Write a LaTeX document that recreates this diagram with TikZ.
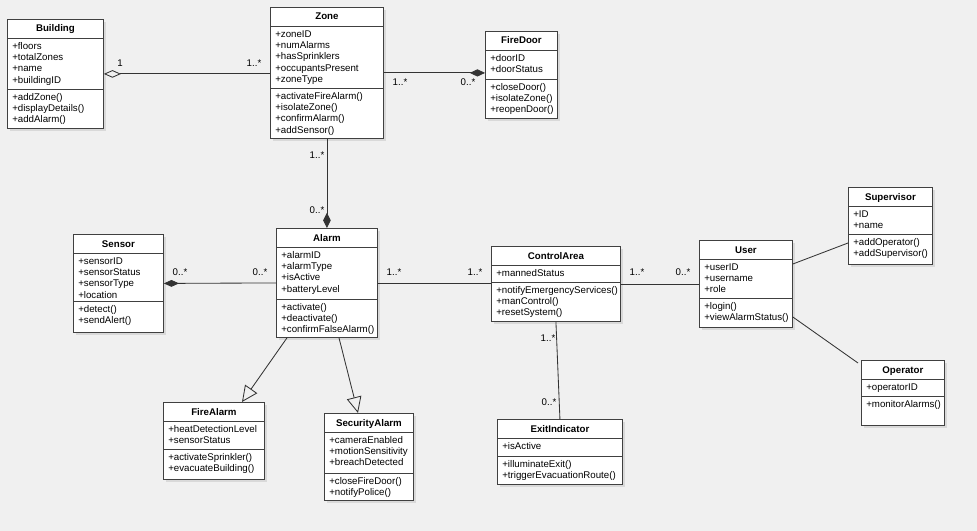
\documentclass[tikz,border=0pt]{standalone}
\usepackage{fontspec}
\setmainfont{Liberation Sans}
\usetikzlibrary{arrows.meta}
\usetikzlibrary{shadows}
\tikzset{
  classbox/.style={draw=black!75, fill=white, line width=0.6pt, anchor=north west, inner sep=0pt,
    drop shadow={shadow xshift=1.5pt, shadow yshift=-1.5pt, opacity=0.2}},
  classsep/.style={draw=black!75, line width=0.6pt},
  classtitle/.style={inner sep=0pt, anchor=base, font=\fontsize{6.9}{8.04}\selectfont\bfseries},
  classtext/.style={inner sep=0pt, anchor=north west, font=\fontsize{6.9}{8.04}\selectfont},
  mult/.style={inner sep=0pt, font=\fontsize{6.9}{8.04}\selectfont},
  assoc/.style={draw=black!80, line width=0.6pt}}
% name, left/top, width, height, title, attributes, operations, attribute height
\newcommand{\umlclass}[8]{%
  \node[classbox, minimum width=#3*0.025cm, minimum height=#4*0.025cm] (#1) at (#2) {};
  \node[classtitle] (#1-title) at ([shift={(0,13)}]#1.north) {#5};
  \draw[classsep] ([shift={(0,19)}]#1.north west) -- ++(#3,0);
  \draw[classsep] ([shift={(0,19+#8)}]#1.north west) -- ++(#3,0);
  \node[classtext] (#1-attr) at ([shift={(5,22)}]#1.north west) {\begin{tabular}{@{}l@{}}#6\end{tabular}};
  \node[classtext] (#1-ops) at ([shift={(5,22+#8)}]#1.north west) {\begin{tabular}{@{}l@{}}#7\end{tabular}};
}
\begin{document}
\begin{tikzpicture}[x=0.025cm, y=-0.025cm]
      \fill[black!6] (0,0) rectangle (977,531);

      \umlclass{building}{7,19}{96}{109}{Building}{+floors\\+totalZones\\+name\\+buildingID}{+addZone()\\+displayDetails()\\+addAlarm()}{51}
      \umlclass{zone}{270,7}{113}{131}{Zone}{+zoneID\\+numAlarms\\+hasSprinklers\\+occupantsPresent\\+zoneType}{+activateFireAlarm()\\+isolateZone()\\+confirmAlarm()\\+addSensor()}{62}
      \umlclass{firedoor}{485,31}{72}{87}{FireDoor}{+doorID\\+doorStatus}{+closeDoor()\\+isolateZone()\\+reopenDoor()}{29}
      \umlclass{sensor}{73,234}{90}{98}{Sensor}{+sensorID\\+sensorStatus\\+sensorType\\+location}{+detect()\\+sendAlert()}{48}
      \umlclass{alarm}{276,228}{101}{109}{Alarm}{+alarmID\\+alarmType\\+isActive\\+batteryLevel}{+activate()\\+deactivate()\\+confirmFalseAlarm()}{52}
      \umlclass{firealarm}{163,402}{101}{77}{FireAlarm}{+heatDetectionLevel\\+sensorStatus}{+activateSprinkler()\\+evacuateBuilding()}{28}
      \umlclass{securityalarm}{324,413}{89}{87}{SecurityAlarm}{+cameraEnabled\\+motionSensitivity\\+breachDetected}{+closeFireDoor()\\+notifyPolice()}{41}
      \umlclass{controlarea}{491,246}{129}{75}{ControlArea}{+mannedStatus}{+notifyEmergencyServices()\\+manControl()\\+resetSystem()}{17}
      \umlclass{exitindicator}{497,419}{125}{65}{ExitIndicator}{+isActive}{+illuminateExit()\\+triggerEvacuationRoute()}{18}
      \umlclass{user}{699,240}{93}{87}{User}{+userID\\+username\\+role}{+login()\\+viewAlarmStatus()}{39}
      \umlclass{supervisor}{848,187}{84}{77}{Supervisor}{+ID\\+name}{+addOperator()\\+addSupervisor()}{28}
      \umlclass{operator}{861,360}{83}{65}{Operator}{+operatorID}{+monitorAlarms()}{17}

      % associations
      \draw[assoc, {Diamond[open, length=0.43cm, width=0.19cm]}-] (building.east) -- (building.east -| zone.west);
      \draw[assoc, -{Diamond[length=0.38cm, width=0.18cm]}] (zone.east) -- (zone.east -| firedoor.west);
      \draw[assoc, -{Diamond[length=0.38cm, width=0.19cm]}] (zone.south) -- (alarm.north);
      \draw[assoc, {Diamond[length=0.38cm, width=0.17cm]}-] (sensor.east) -- (alarm.west);
      \draw[assoc] (alarm.east) -- (alarm.east -| controlarea.west);
      \draw[assoc] (controlarea.east) -- (controlarea.east -| user.west);
      \draw[assoc] (controlarea.south) -- (exitindicator.north);
      \draw[assoc] ([shift={(0,24)}]user.north east) -- ([shift={(0,56)}]supervisor.north west);
      \draw[assoc] ([shift={(0,77)}]user.north east) -- ([shift={(-3,3)}]operator.north west);

      % generalisations
      \draw[assoc, -{Triangle[open, length=0.4cm, width=0.37cm]}] ([shift={(11,0)}]alarm.south west) -- ([shift={(79,0)}]firealarm.north west);
      \draw[assoc, -{Triangle[open, length=0.4cm, width=0.37cm]}] ([shift={(63,0)}]alarm.south west) -- ([shift={(34,0)}]securityalarm.north west);

      % multiplicities
      \node[mult] (m1) at (120,63) {1};
      \node[mult] (m2) at (254,63) {1..*};
      \node[mult] (m3) at (400,82) {1..*};
      \node[mult] (m4) at (468,82) {0..*};
      \node[mult] (m5) at (317,155) {1..*};
      \node[mult] (m6) at (317,210) {0..*};
      \node[mult] (m7) at (180,272) {0..*};
      \node[mult] (m8) at (260,272) {0..*};
      \node[mult] (m9) at (394,272) {1..*};
      \node[mult] (m10) at (475,272) {1..*};
      \node[mult] (m11) at (637,272) {1..*};
      \node[mult] (m12) at (683,272) {0..*};
      \node[mult] (m13) at (548,338) {1..*};
      \node[mult] (m14) at (549,402) {0..*};
\end{tikzpicture}
\end{document}
